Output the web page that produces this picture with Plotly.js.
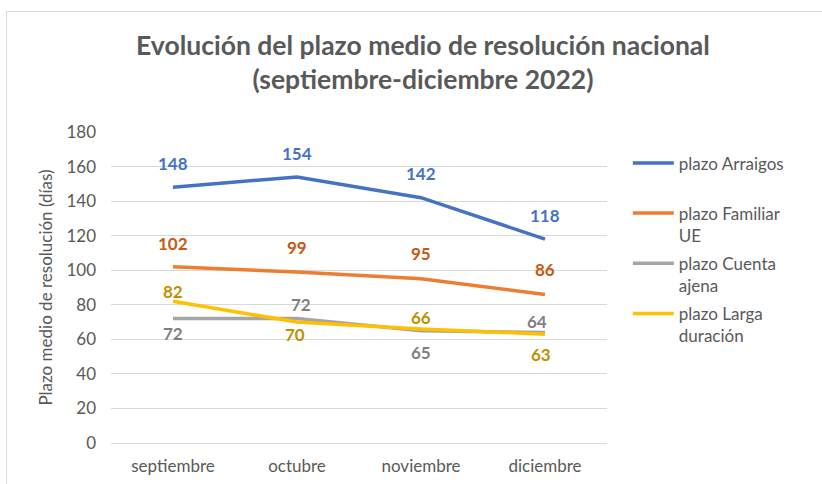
<!DOCTYPE html>
<html><head><meta charset="utf-8">
<script src="https://cdn.plot.ly/plotly-3.0.1.min.js"></script>
<style>
html,body{margin:0;padding:0;background:#fff;overflow:hidden}
#chart{width:822px;height:484px;position:absolute;left:0;top:0}
#frame{position:absolute;left:6px;top:11px;width:840px;height:500px;border-left:1px solid #d9d9d9;border-top:1px solid #d9d9d9;pointer-events:none}
</style></head>
<body><div id="chart"></div><div id="frame"></div>
<script>
// ---- data ----
const months = ['septiembre', 'octubre', 'noviembre', 'diciembre'];
const arraigos = [148, 154, 142, 118];
const familiarUE = [102, 99, 95, 86];
const cuentaAjena = [72, 72, 65, 64];
const largaDuracion = [82, 70, 66, 63];
const yTickValues = [0, 20, 40, 60, 80, 100, 120, 140, 160, 180];
const seriesNames = ['plazo Arraigos<br> ', 'plazo Familiar<br>UE', 'plazo Cuenta<br>ajena', 'plazo Larga<br>duración'];

// ---- style ----
const FONT = 'Lato, "Open Sans", sans-serif';
const TXT = '#595959';
const lineColors = ['#4472C4', '#ED7D31', '#A5A5A5', '#FFC000'];
const labelColors = ['#4472C4', '#C55A11', '#7F7F7F', '#BF9000'];
const labelYShift = [
  [24, 23, 24, 24],
  [23, 24, 25, 25],
  [-15, 14, -22, 11],
  [10, -12, 11, -20]
];
const labelXShift = [
  [0, 0, 0, 0],
  [0, 0, 0, 0],
  [0, 4, 0, -8],
  [0, -2, 0, -4]
];

const allSeries = [arraigos, familiarUE, cuentaAjena, largaDuracion];

const traces = allSeries.map((vals, i) => ({
  type: 'scatter',
  mode: 'lines',
  x: months,
  y: vals,
  name: seriesNames[i],
  legendgroup: 'g' + i,
  line: {color: lineColors[i], width: 3.5},
  hoverinfo: 'x+y'
}));

const annotations = [];
allSeries.forEach((vals, i) => {
  vals.forEach((v, j) => {
    annotations.push({
      x: months[j], y: v, xref: 'x', yref: 'y',
      text: String(v), showarrow: false,
      xanchor: 'center', yanchor: 'middle',
      yshift: labelYShift[i][j], xshift: labelXShift[i][j],
      font: {family: FONT, size: 17, color: labelColors[i], weight: 700}
    });
  });
});

const layout = {
  width: 822, height: 484,
  paper_bgcolor: '#ffffff', plot_bgcolor: '#ffffff',
  margin: {l: 111, r: 215, t: 132, b: 41},
  font: {family: FONT, color: TXT, size: 17},
  title: {
    text: 'Evolución del plazo medio de resolución nacional<br>(septiembre-diciembre 2022)',
    font: {family: FONT, size: 26.5, color: TXT, weight: 700},
    x: 0.5146, xref: 'container', xanchor: 'center',
    y: 0.887, yref: 'container', yanchor: 'top'
  },
  xaxis: {
    type: 'category',
    categoryorder: 'array', categoryarray: months,
    range: [-0.5, 3.5],
    showgrid: false, zeroline: false, showline: false,
    ticks: '', ticklabelstandoff: 11,
    tickfont: {family: FONT, size: 17, color: TXT}
  },
  yaxis: {
    range: [0, 180],
    tickvals: yTickValues,
    ticktext: yTickValues.map(String),
    showgrid: true, gridcolor: '#D9D9D9', gridwidth: 1,
    zeroline: true, zerolinecolor: '#D9D9D9', zerolinewidth: 1,
    showline: false, ticks: '', ticklabelstandoff: 14,
    tickfont: {family: FONT, size: 17, color: TXT},
    title: {text: 'Plazo medio de resolución (días)', standoff: 9,
            font: {family: FONT, size: 17, color: TXT}}
  },
  showlegend: true,
  legend: {
    x: 1.042, xanchor: 'left', xref: 'paper',
    y: 0.957, yanchor: 'top', yref: 'paper',
    itemwidth: 41, valign: 'top',
    tracegroupgap: 3,
    font: {family: FONT, size: 17, color: TXT},
    bgcolor: 'rgba(0,0,0,0)'
  },
  annotations: annotations
};

Plotly.newPlot('chart', traces, layout, {displayModeBar: false, staticPlot: true});
</script>
</body></html>
